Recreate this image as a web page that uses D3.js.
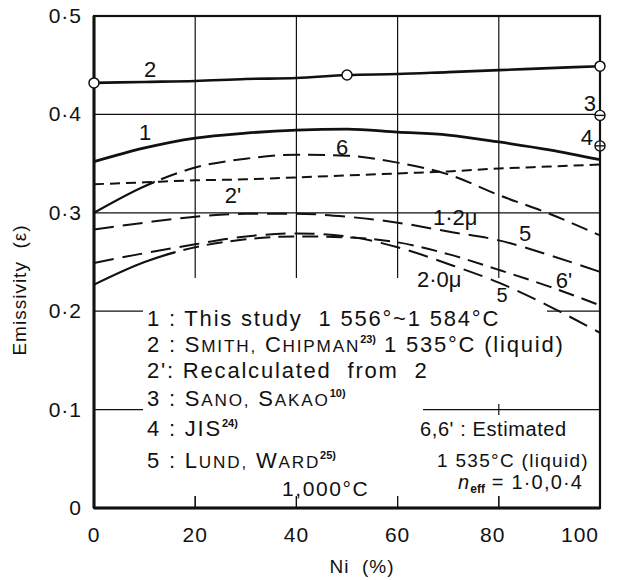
<!DOCTYPE html>
<html>
<head>
<meta charset="utf-8">
<script src="https://cdn.jsdelivr.net/npm/d3@7"></script>
<style>
  body { margin: 0; background: #fff; }
  text { font-family: "Liberation Sans", Arial, sans-serif; fill: #111; }
</style>
</head>
<body>
<svg width="621" height="580"></svg>
<script>
// Ni content (%) and emissivity values
var niPct   = [0, 10, 20, 30, 40, 50, 60, 70, 80, 90, 100];
var eps1    = [0.352, 0.366, 0.376, 0.381, 0.384, 0.385, 0.382, 0.379, 0.372, 0.364, 0.354];
var eps2    = [0.432, 0.433, 0.434, 0.436, 0.437, 0.440, 0.441, 0.443, 0.445, 0.447, 0.449];
var eps2p   = [0.329, 0.331, 0.333, 0.334, 0.336, 0.338, 0.340, 0.342, 0.345, 0.347, 0.349];
var eps6    = [0.300, 0.327, 0.346, 0.355, 0.359, 0.358, 0.351, 0.339, 0.318, 0.299, 0.277];
var eps6p   = [0.227, 0.250, 0.265, 0.273, 0.276, 0.275, 0.270, 0.258, 0.242, 0.225, 0.206];
var eps5a   = [0.283, 0.290, 0.296, 0.299, 0.299, 0.296, 0.290, 0.281, 0.272, 0.257, 0.240]; // 1.2 micron
var eps5b   = [0.249, 0.259, 0.268, 0.276, 0.279, 0.276, 0.265, 0.248, 0.229, 0.205, 0.178]; // 2.0 micron
var pts2Ni  = [0, 50, 100];
var pts2Eps = [0.432, 0.440, 0.449];
var sanoEps = 0.399;  // 3
var jisEps  = 0.368;  // 4
var xTicks = [0, 20, 40, 60, 80, 100];
var yTicks = [0, 0.1, 0.2, 0.3, 0.4, 0.5];

var svg = d3.select("svg");
var x = d3.scaleLinear().domain([0, 100]).range([94, 600]);
var y = d3.scaleLinear().domain([0, 0.5]).range([508, 16]);

var line = d3.line()
    .x(function(d, i) { return x(niPct[i]); })
    .y(function(d) { return y(d); })
    .curve(d3.curveMonotoneX);

// grid
var grid = svg.append("g").attr("stroke", "#111").attr("stroke-width", 1.2);
grid.selectAll("line.h").data(yTicks.slice(1, 5)).enter().append("line")
    .attr("x1", x(0)).attr("x2", x(100))
    .attr("y1", function(d) { return y(d); }).attr("y2", function(d) { return y(d); });
grid.selectAll("line.v").data(xTicks.slice(1, 5)).enter().append("line")
    .attr("x1", function(d) { return x(d); }).attr("x2", function(d) { return x(d); })
    .attr("y1", y(0.5)).attr("y2", y(0));

// blank areas behind the key
svg.append("rect").attr("x", 143).attr("y", 278).attr("width", 404).attr("height", 126).attr("fill", "#fff");
svg.append("rect").attr("x", 143).attr("y", 404).attr("width", 280).attr("height", 92).attr("fill", "#fff");
svg.append("rect").attr("x", 423).attr("y", 415).attr("width", 177).attr("height", 81).attr("fill", "#fff");

// frame
svg.append("rect").attr("x", x(0)).attr("y", y(0.5))
    .attr("width", x(100) - x(0)).attr("height", y(0) - y(0.5))
    .attr("fill", "none").attr("stroke", "#111").attr("stroke-width", 2.2);
svg.append("line").attr("x1", x(0)).attr("x2", x(0)).attr("y1", y(0.5)).attr("y2", y(0))
    .attr("stroke", "#111").attr("stroke-width", 3);
svg.append("line").attr("x1", x(0)).attr("x2", x(100)).attr("y1", y(0)).attr("y2", y(0))
    .attr("stroke", "#111").attr("stroke-width", 3);

// clip regions for solid start of curves 6 and 6'
var defs = svg.append("defs");
defs.append("clipPath").attr("id", "c6s").append("rect").attr("x", 0).attr("y", 0).attr("width", x(12)).attr("height", 580);
defs.append("clipPath").attr("id", "c6d").append("rect").attr("x", x(12)).attr("y", 0).attr("width", 621).attr("height", 580);
defs.append("clipPath").attr("id", "c6ps").append("rect").attr("x", 0).attr("y", 0).attr("width", x(16)).attr("height", 580);
defs.append("clipPath").attr("id", "c6pd").append("rect").attr("x", x(16)).attr("y", 0).attr("width", 621).attr("height", 580);

var curves = svg.append("g").attr("fill", "none").attr("stroke", "#111");
curves.append("path").attr("d", line(eps2)).attr("stroke-width", 2.6);
curves.append("path").attr("d", line(eps1)).attr("stroke-width", 2.8);
curves.append("path").attr("d", line(eps2p)).attr("stroke-width", 2).attr("stroke-dasharray", "10,6");
curves.append("path").attr("d", line(eps6)).attr("stroke-width", 2.2).attr("clip-path", "url(#c6s)");
curves.append("path").attr("d", line(eps6)).attr("stroke-width", 2).attr("stroke-dasharray", "17,8").attr("clip-path", "url(#c6d)");
curves.append("path").attr("d", line(eps6p)).attr("stroke-width", 2.2).attr("clip-path", "url(#c6ps)");
curves.append("path").attr("d", line(eps6p)).attr("stroke-width", 2).attr("stroke-dasharray", "16,8").attr("clip-path", "url(#c6pd)");
curves.append("path").attr("d", line(eps5a)).attr("stroke-width", 2).attr("stroke-dasharray", "20,9");
curves.append("path").attr("d", line(eps5b)).attr("stroke-width", 2).attr("stroke-dasharray", "20,9");

// markers
svg.selectAll("circle.p2").data(pts2Ni).enter().append("circle")
    .attr("cx", function(d) { return x(d); })
    .attr("cy", function(d, i) { return y(pts2Eps[i]); })
    .attr("r", 5).attr("fill", "#fff").attr("stroke", "#111").attr("stroke-width", 1.5);
function mark(v, cross) {
  var g = svg.append("g").attr("stroke", "#111").attr("stroke-width", 1.4);
  g.append("circle").attr("cx", x(100)).attr("cy", y(v)).attr("r", 5).attr("fill", "#fff");
  g.append("line").attr("x1", x(100) - 5).attr("x2", x(100) + 5).attr("y1", y(v)).attr("y2", y(v));
  if (cross) g.append("line").attr("x1", x(100)).attr("x2", x(100)).attr("y1", y(v) - 5).attr("y2", y(v) + 5);
}
mark(sanoEps, false);
mark(jisEps, true);

// ticks at bottom
svg.selectAll("line.bt").data(xTicks.slice(1, 5)).enter().append("line")
    .attr("x1", function(d) { return x(d); }).attr("x2", function(d) { return x(d); })
    .attr("y1", y(0) - 12).attr("y2", y(0)).attr("stroke", "#111").attr("stroke-width", 1.2);

// axis labels
function fmt(d) { return d === 0 ? "0" : d3.format(".1f")(d).replace(".", "·"); }
svg.selectAll("text.yt").data(yTicks).enter().append("text")
    .attr("x", 82).attr("y", function(d) { return y(d) + 7; })
    .attr("text-anchor", "end").attr("font-size", 21).attr("letter-spacing", 1).text(fmt);
var xShift = {80: -6, 100: -20};
svg.selectAll("text.xt").data(xTicks).enter().append("text")
    .attr("x", function(d) { return x(d) + (xShift[d] || 0); }).attr("y", 542)
    .attr("text-anchor", "middle").attr("font-size", 21).attr("letter-spacing", 1).text(function(d) { return d; });
svg.append("text").attr("x", 362).attr("y", 573).attr("text-anchor", "middle")
    .attr("font-size", 19).attr("letter-spacing", 1).attr("xml:space", "preserve").text("Ni  (%)");
svg.append("text").attr("transform", "translate(26,290) rotate(-90)")
    .attr("text-anchor", "middle").attr("font-size", 19).attr("letter-spacing", 1)
    .attr("xml:space", "preserve").text("Emissivity  (ε)");

// curve labels
function lab(tx, ty, s, anchor, size) {
  return svg.append("text").attr("x", tx).attr("y", ty).attr("font-size", size || 22)
      .attr("text-anchor", anchor || "middle").text(s);
}
lab(150, 77, "2");
lab(145, 140, "1");
lab(233, 203, "2'");
lab(342, 155, "6");
lab(433, 225, "1·2μ", "start");
lab(417, 287, "2·0μ", "start");
lab(525, 241, "5");
lab(564, 288, "6'");
lab(502, 302, "5", "middle", 20);
lab(596, 111, "3", "end");
lab(593, 145, "4", "end");

// key
function keyRow(tx, ty, parts, size, ls) {
  size = size || 22;
  var t = svg.append("text").attr("x", tx).attr("y", ty).attr("font-size", size)
      .attr("letter-spacing", ls === undefined ? 1.8 : ls).attr("xml:space", "preserve");
  parts.forEach(function(p) {
    if (p.sc) {
      // small capitals: first letter full size, the rest reduced
      p.t.split(/(\s+)/).forEach(function(w) {
        if (!w.trim()) { t.append("tspan").text(w); return; }
        t.append("tspan").text(w[0]);
        t.append("tspan").attr("font-size", size * 0.78).text(w.slice(1).toUpperCase());
      });
      return;
    }
    var s = t.append("tspan").text(p.t);
    if (p.sup) s.attr("font-size", 11).attr("dy", -9).attr("font-weight", "bold").attr("letter-spacing", 0);
    if (p.back) s.attr("dy", 9);
  });
  return t;
}
keyRow(147, 326, [{t: "1 : This study  1 556°~1 584°C"}]);
keyRow(147, 352, [{t: "2 : "}, {t: "Smith, Chipman", sc: true}, {t: "23)", sup: true}, {t: " 1 535°C (liquid)", back: true}]);
keyRow(147, 378, [{t: "2': Recalculated  from  2"}]);
keyRow(147, 406, [{t: "3 : "}, {t: "Sano, Sakao", sc: true}, {t: "10)", sup: true}]);
keyRow(147, 436, [{t: "4 : JIS"}, {t: "24)", sup: true}]);
keyRow(147, 468, [{t: "5 : "}, {t: "Lund, Ward", sc: true}, {t: "25)", sup: true}]);
keyRow(282, 496, [{t: "1,000°C"}], 21, 1.6);
keyRow(420, 436, [{t: "6,6' : Estimated"}], 20, 0.6);
keyRow(437, 467, [{t: "1 535°C (liquid)"}], 19, 1.3);
var ne = svg.append("text").attr("x", 458).attr("y", 489).attr("font-size", 20).attr("letter-spacing", 1.2);
ne.append("tspan").attr("font-style", "italic").text("n");
ne.append("tspan").attr("font-size", 12).attr("font-weight", "bold").attr("dy", 4).attr("letter-spacing", 0).text("eff");
ne.append("tspan").attr("dy", -4).text(" = 1·0,0·4");
</script>
</body>
</html>
